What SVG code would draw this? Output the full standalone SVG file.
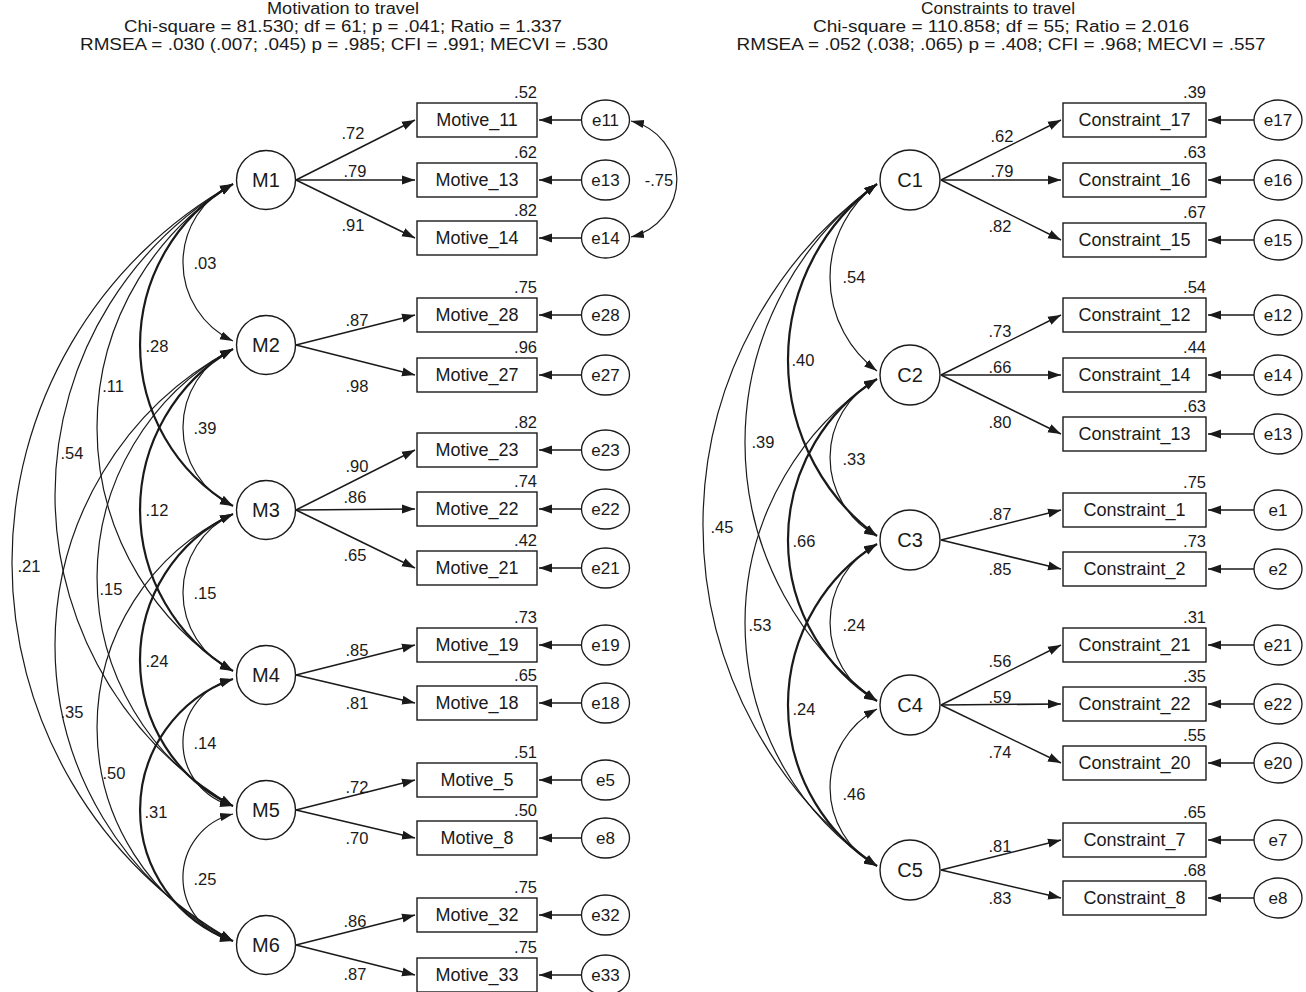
<svg xmlns="http://www.w3.org/2000/svg" width="1306" height="992" viewBox="0 0 1306 992">
<style>
text{font-family:"Liberation Sans",Arial,sans-serif;fill:#1a1a1a}
.title{font-size:16px;text-anchor:middle}
.box{fill:#fff;stroke:#1a1a1a;stroke-width:1.4}
.lat{fill:#fff;stroke:#1a1a1a;stroke-width:1.4}
.err{fill:#fff;stroke:#1a1a1a;stroke-width:1.3}
.bl{font-size:18px;text-anchor:middle}
.ll{font-size:20px;text-anchor:middle}
.el{font-size:17px;text-anchor:middle}
.cf{font-size:16.5px;text-anchor:middle}
.sq{font-size:16.5px;text-anchor:end}
.ld{fill:none;stroke:#1a1a1a;stroke-width:1.5;marker-end:url(#ah)}
.cv{fill:none;stroke:#1a1a1a;stroke-width:1.2;marker-start:url(#ah2);marker-end:url(#ah2)}
.cvt{fill:none;stroke:#1a1a1a;stroke-width:2.2;marker-start:url(#ah2);marker-end:url(#ah2)}
</style>
<defs>
<marker id="ah" markerUnits="userSpaceOnUse" markerWidth="14" markerHeight="10" refX="13" refY="5" orient="auto"><path d="M0,0.5 L13,5 L0,9.5 z" fill="#1a1a1a"/></marker>
<marker id="ah2" markerUnits="userSpaceOnUse" markerWidth="14" markerHeight="10" refX="13" refY="5" orient="auto-start-reverse"><path d="M0,0.8 L13,5 L0,9.2 z" fill="#1a1a1a"/></marker>
</defs>
<rect width="1306" height="992" fill="#fff"/>

<g id="titles">
<text class="title" x="343" y="14" textLength="152" lengthAdjust="spacingAndGlyphs">Motivation to travel</text>
<text class="title" x="343" y="32" textLength="438" lengthAdjust="spacingAndGlyphs">Chi-square = 81.530; df = 61; p = .041; Ratio = 1.337</text>
<text class="title" x="344" y="50" textLength="528" lengthAdjust="spacingAndGlyphs">RMSEA = .030 (.007; .045) p = .985; CFI = .991; MECVI = .530</text>
<text class="title" x="998" y="14" textLength="154" lengthAdjust="spacingAndGlyphs">Constraints to travel</text>
<text class="title" x="1001" y="32" textLength="376" lengthAdjust="spacingAndGlyphs">Chi-square = 110.858; df = 55; Ratio = 2.016</text>
<text class="title" x="1001" y="50" textLength="529" lengthAdjust="spacingAndGlyphs">RMSEA = .052 (.038; .065) p = .408; CFI = .968; MECVI = .557</text>
</g>

<g id="connectors">
<path class="ld" d="M296,180 L415,120"/>
<path class="ld" d="M296,180 L415,180"/>
<path class="ld" d="M296,180 L415,238"/>
<path class="ld" d="M296,345 L415,315"/>
<path class="ld" d="M296,345 L415,375"/>
<path class="ld" d="M296,510 L415,450"/>
<path class="ld" d="M296,510 L415,509"/>
<path class="ld" d="M296,510 L415,568"/>
<path class="ld" d="M296,675 L415,645"/>
<path class="ld" d="M296,675 L415,703"/>
<path class="ld" d="M296,810 L415,780"/>
<path class="ld" d="M296,810 L415,838"/>
<path class="ld" d="M296,945 L415,915"/>
<path class="ld" d="M296,945 L415,975"/>
<path class="ld" d="M581,120 L539,120"/>
<path class="ld" d="M581,180 L539,180"/>
<path class="ld" d="M581,238 L539,238"/>
<path class="ld" d="M581,315 L539,315"/>
<path class="ld" d="M581,375 L539,375"/>
<path class="ld" d="M581,450 L539,450"/>
<path class="ld" d="M581,509 L539,509"/>
<path class="ld" d="M581,568 L539,568"/>
<path class="ld" d="M581,645 L539,645"/>
<path class="ld" d="M581,703 L539,703"/>
<path class="ld" d="M581,780 L539,780"/>
<path class="ld" d="M581,838 L539,838"/>
<path class="ld" d="M581,915 L539,915"/>
<path class="ld" d="M581,975 L539,975"/>
<path class="cv" d="M631,121 A59.6,59.6 0 0 1 631,237"/>
<path class="cv" d="M233,184 A86.6,86.6 0 0 0 233,341"/>
<path class="cv" d="M233,349 A86.6,86.6 0 0 0 233,506"/>
<path class="cv" d="M233,514 A86.6,86.6 0 0 0 233,671"/>
<path class="cv" d="M233,679 A65.3,65.3 0 0 0 233,806"/>
<path class="cv" d="M233,814 A65.3,65.3 0 0 0 233,941"/>
<path class="cvt" d="M233,184 A185.9,185.9 0 0 0 233,506"/>
<path class="cvt" d="M233,349 A185.9,185.9 0 0 0 233,671"/>
<path class="cvt" d="M233,514 A161.1,161.1 0 0 0 233,806"/>
<path class="cvt" d="M233,679 A138.8,138.8 0 0 0 233,941"/>
<path class="cv" d="M233,184 A286,286 0 0 0 233,671"/>
<path class="cv" d="M233,349 A260,260 0 0 0 233,806"/>
<path class="cv" d="M233,514 A235.6,235.6 0 0 0 233,941"/>
<path class="cv" d="M233,184 A360.7,360.7 0 0 0 233,806"/>
<path class="cv" d="M233,349 A335.1,335.1 0 0 0 233,941"/>
<path class="cv" d="M233,184 A434.6,434.6 0 0 0 233,941"/>
<path class="ld" d="M941,180 L1061,120"/>
<path class="ld" d="M941,180 L1061,180"/>
<path class="ld" d="M941,180 L1061,240"/>
<path class="ld" d="M941,375 L1061,315"/>
<path class="ld" d="M941,375 L1061,375"/>
<path class="ld" d="M941,375 L1061,434"/>
<path class="ld" d="M941,540 L1061,510"/>
<path class="ld" d="M941,540 L1061,569"/>
<path class="ld" d="M941,705 L1061,645"/>
<path class="ld" d="M941,705 L1061,704"/>
<path class="ld" d="M941,705 L1061,763"/>
<path class="ld" d="M941,870 L1061,840"/>
<path class="ld" d="M941,870 L1061,898"/>
<path class="ld" d="M1254,120 L1208,120"/>
<path class="ld" d="M1254,180 L1208,180"/>
<path class="ld" d="M1254,240 L1208,240"/>
<path class="ld" d="M1254,315 L1208,315"/>
<path class="ld" d="M1254,375 L1208,375"/>
<path class="ld" d="M1254,434 L1208,434"/>
<path class="ld" d="M1254,510 L1208,510"/>
<path class="ld" d="M1254,569 L1208,569"/>
<path class="ld" d="M1254,645 L1208,645"/>
<path class="ld" d="M1254,704 L1208,704"/>
<path class="ld" d="M1254,763 L1208,763"/>
<path class="ld" d="M1254,840 L1208,840"/>
<path class="ld" d="M1254,898 L1208,898"/>
<path class="cv" d="M877,184 A116.5,116.5 0 0 0 877,371"/>
<path class="cv" d="M877,379 A89.1,89.1 0 0 0 877,536"/>
<path class="cv" d="M877,544 A89.1,89.1 0 0 0 877,701"/>
<path class="cv" d="M877,709 A89.1,89.1 0 0 0 877,866"/>
<path class="cvt" d="M877,184 A218.5,218.5 0 0 0 877,536"/>
<path class="cvt" d="M877,379 A190.1,190.1 0 0 0 877,701"/>
<path class="cvt" d="M877,544 A190.1,190.1 0 0 0 877,866"/>
<path class="cv" d="M877,184 A319.1,319.1 0 0 0 877,701"/>
<path class="cv" d="M877,379 A290.6,290.6 0 0 0 877,866"/>
<path class="cv" d="M877,184 A421.1,421.1 0 0 0 877,866"/>
</g>

<g id="connector-labels">
<text class="cf" x="353" y="139">.72</text>
<text class="cf" x="355" y="177">.79</text>
<text class="cf" x="353" y="231">.91</text>
<text class="cf" x="357" y="326">.87</text>
<text class="cf" x="357" y="392">.98</text>
<text class="cf" x="357" y="472">.90</text>
<text class="cf" x="355" y="503">.86</text>
<text class="cf" x="355" y="561">.65</text>
<text class="cf" x="357" y="656">.85</text>
<text class="cf" x="357" y="709">.81</text>
<text class="cf" x="357" y="793">.72</text>
<text class="cf" x="357" y="844">.70</text>
<text class="cf" x="355" y="927">.86</text>
<text class="cf" x="355" y="980">.87</text>
<text class="cf" x="659" y="186">-.75</text>
<text class="cf" x="205" y="269">.03</text>
<text class="cf" x="205" y="434">.39</text>
<text class="cf" x="205" y="599">.15</text>
<text class="cf" x="205" y="749">.14</text>
<text class="cf" x="205" y="885">.25</text>
<text class="cf" x="157" y="352">.28</text>
<text class="cf" x="157" y="516">.12</text>
<text class="cf" x="157" y="667">.24</text>
<text class="cf" x="156" y="818">.31</text>
<text class="cf" x="113" y="392">.11</text>
<text class="cf" x="111" y="595">.15</text>
<text class="cf" x="114" y="779">.50</text>
<text class="cf" x="72" y="459">.54</text>
<text class="cf" x="72" y="718">.35</text>
<text class="cf" x="29" y="572">.21</text>
<text class="cf" x="1002" y="142">.62</text>
<text class="cf" x="1002" y="177">.79</text>
<text class="cf" x="1000" y="232">.82</text>
<text class="cf" x="1000" y="337">.73</text>
<text class="cf" x="1000" y="373">.66</text>
<text class="cf" x="1000" y="428">.80</text>
<text class="cf" x="1000" y="520">.87</text>
<text class="cf" x="1000" y="575">.85</text>
<text class="cf" x="1000" y="667">.56</text>
<text class="cf" x="1000" y="703">.59</text>
<text class="cf" x="1000" y="758">.74</text>
<text class="cf" x="1000" y="852">.81</text>
<text class="cf" x="1000" y="904">.83</text>
<text class="cf" x="854" y="283">.54</text>
<text class="cf" x="854" y="465">.33</text>
<text class="cf" x="854" y="631">.24</text>
<text class="cf" x="854" y="800">.46</text>
<text class="cf" x="803" y="366">.40</text>
<text class="cf" x="804" y="547">.66</text>
<text class="cf" x="804" y="715">.24</text>
<text class="cf" x="763" y="448">.39</text>
<text class="cf" x="760" y="631">.53</text>
<text class="cf" x="722" y="533">.45</text>
</g>

<g id="M1"><circle class="lat" cx="266" cy="180" r="29.5"/><text class="ll" x="266" y="187">M1</text></g>
<g id="M2"><circle class="lat" cx="266" cy="345" r="29.5"/><text class="ll" x="266" y="352">M2</text></g>
<g id="M3"><circle class="lat" cx="266" cy="510" r="29.5"/><text class="ll" x="266" y="517">M3</text></g>
<g id="M4"><circle class="lat" cx="266" cy="675" r="29.5"/><text class="ll" x="266" y="682">M4</text></g>
<g id="M5"><circle class="lat" cx="266" cy="810" r="29.5"/><text class="ll" x="266" y="817">M5</text></g>
<g id="M6"><circle class="lat" cx="266" cy="945" r="29.5"/><text class="ll" x="266" y="952">M6</text></g>

<g id="Motive_11"><rect class="box" x="417" y="103" width="120" height="34"/><text class="bl" x="477" y="126">Motive_11</text><text class="sq" x="537" y="98">.52</text></g>
<g id="Motive_13"><rect class="box" x="417" y="163" width="120" height="34"/><text class="bl" x="477" y="186">Motive_13</text><text class="sq" x="537" y="158">.62</text></g>
<g id="Motive_14"><rect class="box" x="417" y="221" width="120" height="34"/><text class="bl" x="477" y="244">Motive_14</text><text class="sq" x="537" y="216">.82</text></g>
<g id="Motive_28"><rect class="box" x="417" y="298" width="120" height="34"/><text class="bl" x="477" y="321">Motive_28</text><text class="sq" x="537" y="293">.75</text></g>
<g id="Motive_27"><rect class="box" x="417" y="358" width="120" height="34"/><text class="bl" x="477" y="381">Motive_27</text><text class="sq" x="537" y="353">.96</text></g>
<g id="Motive_23"><rect class="box" x="417" y="433" width="120" height="34"/><text class="bl" x="477" y="456">Motive_23</text><text class="sq" x="537" y="428">.82</text></g>
<g id="Motive_22"><rect class="box" x="417" y="492" width="120" height="34"/><text class="bl" x="477" y="515">Motive_22</text><text class="sq" x="537" y="487">.74</text></g>
<g id="Motive_21"><rect class="box" x="417" y="551" width="120" height="34"/><text class="bl" x="477" y="574">Motive_21</text><text class="sq" x="537" y="546">.42</text></g>
<g id="Motive_19"><rect class="box" x="417" y="628" width="120" height="34"/><text class="bl" x="477" y="651">Motive_19</text><text class="sq" x="537" y="623">.73</text></g>
<g id="Motive_18"><rect class="box" x="417" y="686" width="120" height="34"/><text class="bl" x="477" y="709">Motive_18</text><text class="sq" x="537" y="681">.65</text></g>
<g id="Motive_5"><rect class="box" x="417" y="763" width="120" height="34"/><text class="bl" x="477" y="786">Motive_5</text><text class="sq" x="537" y="758">.51</text></g>
<g id="Motive_8"><rect class="box" x="417" y="821" width="120" height="34"/><text class="bl" x="477" y="844">Motive_8</text><text class="sq" x="537" y="816">.50</text></g>
<g id="Motive_32"><rect class="box" x="417" y="898" width="120" height="34"/><text class="bl" x="477" y="921">Motive_32</text><text class="sq" x="537" y="893">.75</text></g>
<g id="Motive_33"><rect class="box" x="417" y="958" width="120" height="34"/><text class="bl" x="477" y="981">Motive_33</text><text class="sq" x="537" y="953">.75</text></g>

<g id="e11"><ellipse class="err" cx="605.5" cy="120" rx="24" ry="20"/><text class="el" x="605.5" y="126">e11</text></g>
<g id="e13"><ellipse class="err" cx="605.5" cy="180" rx="24" ry="20"/><text class="el" x="605.5" y="186">e13</text></g>
<g id="e14"><ellipse class="err" cx="605.5" cy="238" rx="24" ry="20"/><text class="el" x="605.5" y="244">e14</text></g>
<g id="e28"><ellipse class="err" cx="605.5" cy="315" rx="24" ry="20"/><text class="el" x="605.5" y="321">e28</text></g>
<g id="e27"><ellipse class="err" cx="605.5" cy="375" rx="24" ry="20"/><text class="el" x="605.5" y="381">e27</text></g>
<g id="e23"><ellipse class="err" cx="605.5" cy="450" rx="24" ry="20"/><text class="el" x="605.5" y="456">e23</text></g>
<g id="e22"><ellipse class="err" cx="605.5" cy="509" rx="24" ry="20"/><text class="el" x="605.5" y="515">e22</text></g>
<g id="e21"><ellipse class="err" cx="605.5" cy="568" rx="24" ry="20"/><text class="el" x="605.5" y="574">e21</text></g>
<g id="e19"><ellipse class="err" cx="605.5" cy="645" rx="24" ry="20"/><text class="el" x="605.5" y="651">e19</text></g>
<g id="e18"><ellipse class="err" cx="605.5" cy="703" rx="24" ry="20"/><text class="el" x="605.5" y="709">e18</text></g>
<g id="e5"><ellipse class="err" cx="605.5" cy="780" rx="24" ry="20"/><text class="el" x="605.5" y="786">e5</text></g>
<g id="e8"><ellipse class="err" cx="605.5" cy="838" rx="24" ry="20"/><text class="el" x="605.5" y="844">e8</text></g>
<g id="e32"><ellipse class="err" cx="605.5" cy="915" rx="24" ry="20"/><text class="el" x="605.5" y="921">e32</text></g>
<g id="e33"><ellipse class="err" cx="605.5" cy="975" rx="24" ry="20"/><text class="el" x="605.5" y="981">e33</text></g>

<g id="C1"><circle class="lat" cx="910" cy="180" r="30"/><text class="ll" x="910" y="187">C1</text></g>
<g id="C2"><circle class="lat" cx="910" cy="375" r="30"/><text class="ll" x="910" y="382">C2</text></g>
<g id="C3"><circle class="lat" cx="910" cy="540" r="30"/><text class="ll" x="910" y="547">C3</text></g>
<g id="C4"><circle class="lat" cx="910" cy="705" r="30"/><text class="ll" x="910" y="712">C4</text></g>
<g id="C5"><circle class="lat" cx="910" cy="870" r="30"/><text class="ll" x="910" y="877">C5</text></g>

<g id="Constraint_17"><rect class="box" x="1063" y="103" width="143" height="34"/><text class="bl" x="1134.5" y="126">Constraint_17</text><text class="sq" x="1206" y="98">.39</text></g>
<g id="Constraint_16"><rect class="box" x="1063" y="163" width="143" height="34"/><text class="bl" x="1134.5" y="186">Constraint_16</text><text class="sq" x="1206" y="158">.63</text></g>
<g id="Constraint_15"><rect class="box" x="1063" y="223" width="143" height="34"/><text class="bl" x="1134.5" y="246">Constraint_15</text><text class="sq" x="1206" y="218">.67</text></g>
<g id="Constraint_12"><rect class="box" x="1063" y="298" width="143" height="34"/><text class="bl" x="1134.5" y="321">Constraint_12</text><text class="sq" x="1206" y="293">.54</text></g>
<g id="Constraint_14"><rect class="box" x="1063" y="358" width="143" height="34"/><text class="bl" x="1134.5" y="381">Constraint_14</text><text class="sq" x="1206" y="353">.44</text></g>
<g id="Constraint_13"><rect class="box" x="1063" y="417" width="143" height="34"/><text class="bl" x="1134.5" y="440">Constraint_13</text><text class="sq" x="1206" y="412">.63</text></g>
<g id="Constraint_1"><rect class="box" x="1063" y="493" width="143" height="34"/><text class="bl" x="1134.5" y="516">Constraint_1</text><text class="sq" x="1206" y="488">.75</text></g>
<g id="Constraint_2"><rect class="box" x="1063" y="552" width="143" height="34"/><text class="bl" x="1134.5" y="575">Constraint_2</text><text class="sq" x="1206" y="547">.73</text></g>
<g id="Constraint_21"><rect class="box" x="1063" y="628" width="143" height="34"/><text class="bl" x="1134.5" y="651">Constraint_21</text><text class="sq" x="1206" y="623">.31</text></g>
<g id="Constraint_22"><rect class="box" x="1063" y="687" width="143" height="34"/><text class="bl" x="1134.5" y="710">Constraint_22</text><text class="sq" x="1206" y="682">.35</text></g>
<g id="Constraint_20"><rect class="box" x="1063" y="746" width="143" height="34"/><text class="bl" x="1134.5" y="769">Constraint_20</text><text class="sq" x="1206" y="741">.55</text></g>
<g id="Constraint_7"><rect class="box" x="1063" y="823" width="143" height="34"/><text class="bl" x="1134.5" y="846">Constraint_7</text><text class="sq" x="1206" y="818">.65</text></g>
<g id="Constraint_8"><rect class="box" x="1063" y="881" width="143" height="34"/><text class="bl" x="1134.5" y="904">Constraint_8</text><text class="sq" x="1206" y="876">.68</text></g>

<g id="e17"><ellipse class="err" cx="1278" cy="120" rx="24" ry="20"/><text class="el" x="1278" y="126">e17</text></g>
<g id="e16"><ellipse class="err" cx="1278" cy="180" rx="24" ry="20"/><text class="el" x="1278" y="186">e16</text></g>
<g id="e15"><ellipse class="err" cx="1278" cy="240" rx="24" ry="20"/><text class="el" x="1278" y="246">e15</text></g>
<g id="e12"><ellipse class="err" cx="1278" cy="315" rx="24" ry="20"/><text class="el" x="1278" y="321">e12</text></g>
<g id="e14r"><ellipse class="err" cx="1278" cy="375" rx="24" ry="20"/><text class="el" x="1278" y="381">e14</text></g>
<g id="e13r"><ellipse class="err" cx="1278" cy="434" rx="24" ry="20"/><text class="el" x="1278" y="440">e13</text></g>
<g id="e1"><ellipse class="err" cx="1278" cy="510" rx="24" ry="20"/><text class="el" x="1278" y="516">e1</text></g>
<g id="e2"><ellipse class="err" cx="1278" cy="569" rx="24" ry="20"/><text class="el" x="1278" y="575">e2</text></g>
<g id="e21r"><ellipse class="err" cx="1278" cy="645" rx="24" ry="20"/><text class="el" x="1278" y="651">e21</text></g>
<g id="e22r"><ellipse class="err" cx="1278" cy="704" rx="24" ry="20"/><text class="el" x="1278" y="710">e22</text></g>
<g id="e20"><ellipse class="err" cx="1278" cy="763" rx="24" ry="20"/><text class="el" x="1278" y="769">e20</text></g>
<g id="e7"><ellipse class="err" cx="1278" cy="840" rx="24" ry="20"/><text class="el" x="1278" y="846">e7</text></g>
<g id="e8r"><ellipse class="err" cx="1278" cy="898" rx="24" ry="20"/><text class="el" x="1278" y="904">e8</text></g>
</svg>
